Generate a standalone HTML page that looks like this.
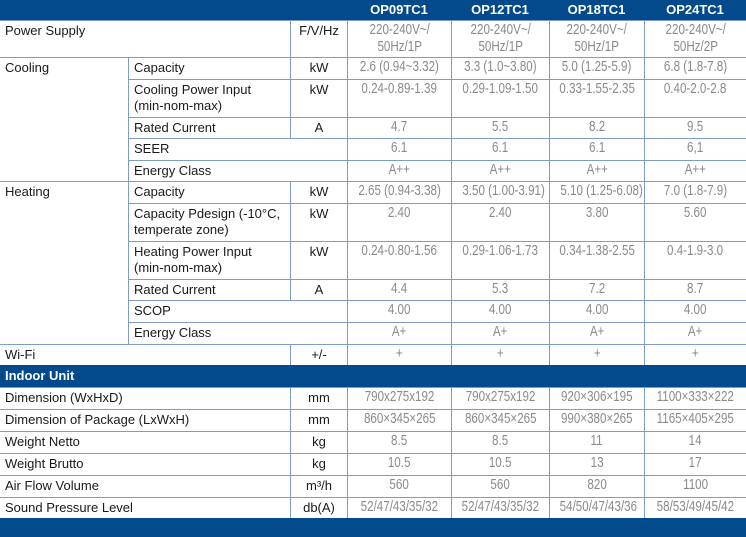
<!DOCTYPE html>
<html><head><meta charset="utf-8"><style>
body{margin:0;width:746px;height:537px;background:#fff;position:relative;overflow:hidden;font-family:"Liberation Sans",sans-serif}
.c{position:absolute;box-sizing:border-box;border-left:1px solid #7f9cc6;border-top:1px solid #7f9cc6;font-size:13px;color:#1a1a1a;padding:2px 5px;line-height:16px;white-space:nowrap}
.u{text-align:center;padding:2px 0}
.d{text-align:center;padding:1px 0;color:#8a8a8a}
.d span{display:inline-block;transform:scaleX(0.8);transform-origin:center;font-size:14.5px;line-height:17px}
.b{position:absolute;background:#024a8c;color:#fff;font-weight:bold;font-size:13px;line-height:20px}
</style></head><body>
<div class="b" style="left:0;top:0;width:746px;height:21px"></div>
<div class="b" style="left:347px;top:0;width:104px;text-align:center">OP09TC1</div>
<div class="b" style="left:451px;top:0;width:98px;text-align:center">OP12TC1</div>
<div class="b" style="left:549px;top:0;width:95px;text-align:center">OP18TC1</div>
<div class="b" style="left:644px;top:0;width:102px;text-align:center">OP24TC1</div>

<div class="c" style="left:0;top:20px;width:290px;height:37px;border-left:0">Power Supply</div>
<div class="c u" style="left:290px;top:20px;width:57px;height:37px">F/V/Hz</div>
<div class="c d" style="left:347px;top:20px;width:104px;height:37px"><span>220-240V~/<br>50Hz/1P</span></div>
<div class="c d" style="left:451px;top:20px;width:98px;height:37px"><span>220-240V~/<br>50Hz/1P</span></div>
<div class="c d" style="left:549px;top:20px;width:95px;height:37px"><span>220-240V~/<br>50Hz/1P</span></div>
<div class="c d" style="left:644px;top:20px;width:102px;height:37px"><span>220-240V~/<br>50Hz/2P</span></div>

<div class="c" style="left:0;top:57px;width:128px;height:124px;border-left:0">Cooling</div>
<div class="c" style="left:128px;top:57px;width:162px;height:22px">Capacity</div>
<div class="c u" style="left:290px;top:57px;width:57px;height:22px">kW</div>
<div class="c d" style="left:347px;top:57px;width:104px;height:22px"><span>2.6 (0.94~3.32)</span></div>
<div class="c d" style="left:451px;top:57px;width:98px;height:22px"><span>3.3 (1.0~3.80)</span></div>
<div class="c d" style="left:549px;top:57px;width:95px;height:22px"><span>5.0 (1.25-5.9)</span></div>
<div class="c d" style="left:644px;top:57px;width:102px;height:22px"><span>6.8 (1.8-7.8)</span></div>

<div class="c" style="left:128px;top:79px;width:162px;height:38px">Cooling Power Input<br>(min-nom-max)</div>
<div class="c u" style="left:290px;top:79px;width:57px;height:38px">kW</div>
<div class="c d" style="left:347px;top:79px;width:104px;height:38px"><span>0.24-0.89-1.39</span></div>
<div class="c d" style="left:451px;top:79px;width:98px;height:38px"><span>0.29-1.09-1.50</span></div>
<div class="c d" style="left:549px;top:79px;width:95px;height:38px"><span>0.33-1.55-2.35</span></div>
<div class="c d" style="left:644px;top:79px;width:102px;height:38px"><span>0.40-2.0-2.8</span></div>

<div class="c" style="left:128px;top:117px;width:162px;height:21px">Rated Current</div>
<div class="c u" style="left:290px;top:117px;width:57px;height:21px">A</div>
<div class="c d" style="left:347px;top:117px;width:104px;height:21px"><span>4.7</span></div>
<div class="c d" style="left:451px;top:117px;width:98px;height:21px"><span>5.5</span></div>
<div class="c d" style="left:549px;top:117px;width:95px;height:21px"><span>8.2</span></div>
<div class="c d" style="left:644px;top:117px;width:102px;height:21px"><span>9.5</span></div>

<div class="c" style="left:128px;top:138px;width:219px;height:22px">SEER</div>
<div class="c d" style="left:347px;top:138px;width:104px;height:22px"><span>6.1</span></div>
<div class="c d" style="left:451px;top:138px;width:98px;height:22px"><span>6.1</span></div>
<div class="c d" style="left:549px;top:138px;width:95px;height:22px"><span>6.1</span></div>
<div class="c d" style="left:644px;top:138px;width:102px;height:22px"><span>6,1</span></div>

<div class="c" style="left:128px;top:160px;width:219px;height:21px">Energy Class</div>
<div class="c d" style="left:347px;top:160px;width:104px;height:21px"><span>A++</span></div>
<div class="c d" style="left:451px;top:160px;width:98px;height:21px"><span>A++</span></div>
<div class="c d" style="left:549px;top:160px;width:95px;height:21px"><span>A++</span></div>
<div class="c d" style="left:644px;top:160px;width:102px;height:21px"><span>A++</span></div>

<div class="c" style="left:0;top:181px;width:128px;height:163px;border-left:0">Heating</div>
<div class="c" style="left:128px;top:181px;width:162px;height:22px">Capacity</div>
<div class="c u" style="left:290px;top:181px;width:57px;height:22px">kW</div>
<div class="c d" style="left:347px;top:181px;width:104px;height:22px"><span>2.65 (0.94-3.38)</span></div>
<div class="c d" style="left:451px;top:181px;width:98px;height:22px"><span>3.50 (1.00-3.91)</span></div>
<div class="c d" style="left:549px;top:181px;width:95px;height:22px"><span>5.10 (1.25-6.08)</span></div>
<div class="c d" style="left:644px;top:181px;width:102px;height:22px"><span>7.0 (1.8-7.9)</span></div>

<div class="c" style="left:128px;top:203px;width:162px;height:38px">Capacity Pdesign (-10°C,<br>temperate zone)</div>
<div class="c u" style="left:290px;top:203px;width:57px;height:38px">kW</div>
<div class="c d" style="left:347px;top:203px;width:104px;height:38px"><span>2.40</span></div>
<div class="c d" style="left:451px;top:203px;width:98px;height:38px"><span>2.40</span></div>
<div class="c d" style="left:549px;top:203px;width:95px;height:38px"><span>3.80</span></div>
<div class="c d" style="left:644px;top:203px;width:102px;height:38px"><span>5.60</span></div>

<div class="c" style="left:128px;top:241px;width:162px;height:38px">Heating Power Input<br>(min-nom-max)</div>
<div class="c u" style="left:290px;top:241px;width:57px;height:38px">kW</div>
<div class="c d" style="left:347px;top:241px;width:104px;height:38px"><span>0.24-0.80-1.56</span></div>
<div class="c d" style="left:451px;top:241px;width:98px;height:38px"><span>0.29-1.06-1.73</span></div>
<div class="c d" style="left:549px;top:241px;width:95px;height:38px"><span>0.34-1.38-2.55</span></div>
<div class="c d" style="left:644px;top:241px;width:102px;height:38px"><span>0.4-1.9-3.0</span></div>

<div class="c" style="left:128px;top:279px;width:162px;height:21px">Rated Current</div>
<div class="c u" style="left:290px;top:279px;width:57px;height:21px">A</div>
<div class="c d" style="left:347px;top:279px;width:104px;height:21px"><span>4.4</span></div>
<div class="c d" style="left:451px;top:279px;width:98px;height:21px"><span>5.3</span></div>
<div class="c d" style="left:549px;top:279px;width:95px;height:21px"><span>7.2</span></div>
<div class="c d" style="left:644px;top:279px;width:102px;height:21px"><span>8.7</span></div>

<div class="c" style="left:128px;top:300px;width:219px;height:22px">SCOP</div>
<div class="c d" style="left:347px;top:300px;width:104px;height:22px"><span>4.00</span></div>
<div class="c d" style="left:451px;top:300px;width:98px;height:22px"><span>4.00</span></div>
<div class="c d" style="left:549px;top:300px;width:95px;height:22px"><span>4.00</span></div>
<div class="c d" style="left:644px;top:300px;width:102px;height:22px"><span>4.00</span></div>

<div class="c" style="left:128px;top:322px;width:219px;height:22px">Energy Class</div>
<div class="c d" style="left:347px;top:322px;width:104px;height:22px"><span>A+</span></div>
<div class="c d" style="left:451px;top:322px;width:98px;height:22px"><span>A+</span></div>
<div class="c d" style="left:549px;top:322px;width:95px;height:22px"><span>A+</span></div>
<div class="c d" style="left:644px;top:322px;width:102px;height:22px"><span>A+</span></div>

<div class="c" style="left:0;top:344px;width:290px;height:21px;border-left:0">Wi-Fi</div>
<div class="c u" style="left:290px;top:344px;width:57px;height:21px">+/-</div>
<div class="c d" style="left:347px;top:344px;width:104px;height:21px"><span>+</span></div>
<div class="c d" style="left:451px;top:344px;width:98px;height:21px"><span>+</span></div>
<div class="c d" style="left:549px;top:344px;width:95px;height:21px"><span>+</span></div>
<div class="c d" style="left:644px;top:344px;width:102px;height:21px"><span>+</span></div>

<div class="b" style="left:0;top:365px;width:741px;height:22px;padding-left:5px;line-height:22px">Indoor Unit</div>

<div class="c" style="left:0;top:387px;width:290px;height:22px;border-left:0">Dimension (WxHxD)</div>
<div class="c u" style="left:290px;top:387px;width:57px;height:22px">mm</div>
<div class="c d" style="left:347px;top:387px;width:104px;height:22px"><span>790x275x192</span></div>
<div class="c d" style="left:451px;top:387px;width:98px;height:22px"><span>790x275x192</span></div>
<div class="c d" style="left:549px;top:387px;width:95px;height:22px"><span>920×306×195</span></div>
<div class="c d" style="left:644px;top:387px;width:102px;height:22px"><span>1100×333×222</span></div>

<div class="c" style="left:0;top:409px;width:290px;height:22px;border-left:0">Dimension of Package (LxWxH)</div>
<div class="c u" style="left:290px;top:409px;width:57px;height:22px">mm</div>
<div class="c d" style="left:347px;top:409px;width:104px;height:22px"><span>860×345×265</span></div>
<div class="c d" style="left:451px;top:409px;width:98px;height:22px"><span>860×345×265</span></div>
<div class="c d" style="left:549px;top:409px;width:95px;height:22px"><span>990×380×265</span></div>
<div class="c d" style="left:644px;top:409px;width:102px;height:22px"><span>1165×405×295</span></div>

<div class="c" style="left:0;top:431px;width:290px;height:22px;border-left:0">Weight Netto</div>
<div class="c u" style="left:290px;top:431px;width:57px;height:22px">kg</div>
<div class="c d" style="left:347px;top:431px;width:104px;height:22px"><span>8.5</span></div>
<div class="c d" style="left:451px;top:431px;width:98px;height:22px"><span>8.5</span></div>
<div class="c d" style="left:549px;top:431px;width:95px;height:22px"><span>11</span></div>
<div class="c d" style="left:644px;top:431px;width:102px;height:22px"><span>14</span></div>

<div class="c" style="left:0;top:453px;width:290px;height:22px;border-left:0">Weight Brutto</div>
<div class="c u" style="left:290px;top:453px;width:57px;height:22px">kg</div>
<div class="c d" style="left:347px;top:453px;width:104px;height:22px"><span>10.5</span></div>
<div class="c d" style="left:451px;top:453px;width:98px;height:22px"><span>10.5</span></div>
<div class="c d" style="left:549px;top:453px;width:95px;height:22px"><span>13</span></div>
<div class="c d" style="left:644px;top:453px;width:102px;height:22px"><span>17</span></div>

<div class="c" style="left:0;top:475px;width:290px;height:22px;border-left:0">Air Flow Volume</div>
<div class="c u" style="left:290px;top:475px;width:57px;height:22px">m³/h</div>
<div class="c d" style="left:347px;top:475px;width:104px;height:22px"><span>560</span></div>
<div class="c d" style="left:451px;top:475px;width:98px;height:22px"><span>560</span></div>
<div class="c d" style="left:549px;top:475px;width:95px;height:22px"><span>820</span></div>
<div class="c d" style="left:644px;top:475px;width:102px;height:22px"><span>1100</span></div>

<div class="c" style="left:0;top:497px;width:290px;height:21px;border-left:0">Sound Pressure Level</div>
<div class="c u" style="left:290px;top:497px;width:57px;height:21px">db(A)</div>
<div class="c d" style="left:347px;top:497px;width:104px;height:21px"><span>52/47/43/35/32</span></div>
<div class="c d" style="left:451px;top:497px;width:98px;height:21px"><span>52/47/43/35/32</span></div>
<div class="c d" style="left:549px;top:497px;width:95px;height:21px"><span>54/50/47/43/36</span></div>
<div class="c d" style="left:644px;top:497px;width:102px;height:21px"><span>58/53/49/45/42</span></div>

<div class="b" style="left:0;top:518px;width:746px;height:19px"></div>
</body></html>
